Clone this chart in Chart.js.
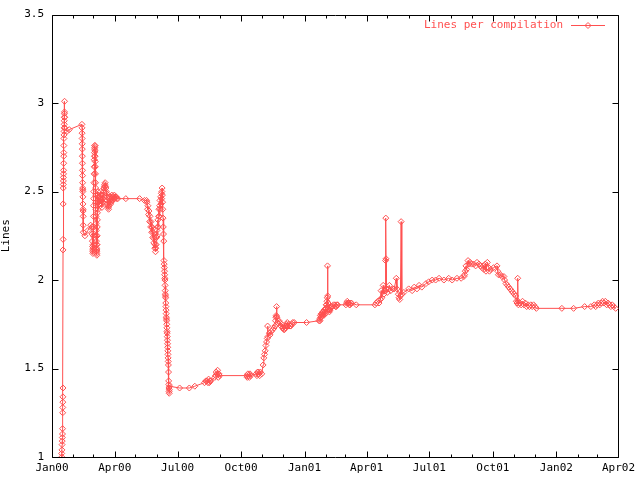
<!DOCTYPE html>
<html>
<head>
<meta charset="utf-8">
<script src="https://cdn.jsdelivr.net/npm/chart.js@4/dist/chart.umd.min.js"></script>
<style>
html,body{margin:0;padding:0;background:#fff;}
canvas{display:block;}
</style>
</head>
<body>
<canvas id="c" width="640" height="480"></canvas>
<script>
// Days since 1 Jan 2000
const dayOffsets = [
14,14.2,14.4,14.6,14.8,15,15.2,15.3,15.5,15.6,15.7,15.8,15.9,16,16.1,16.2,16.3,16.4,16.5,16.6,16.7,16.8,16.9,17,17.1,17.2,17.3,17.4,17.5,17.6,17.7,17.8,17.9,18,18.1,18.2,18.4,18.6,
21.7,25,43.4,
43.5,43.6,43.7,43.8,43.9,44,44.1,44.2,44.3,44.4,44.5,44.6,44.7,44.8,44.9,45,45.1,45.2,45.3,45.4,47.7,52,56,
57.8,58.2,58.5,58.8,59,59.2,59.3,59.5,59.6,59.8,
60,60.2,60.3,60.5,60.6,60.8,61,61.2,61.3,61.5,
61.6,61.8,62,62.1,62.2,62.4,62.5,62.7,62.8,63,
63.1,63.3,63.4,63.5,63.6,63.8,63.9,64.1,64.2,64.4,
64.5,64.7,64.8,64.9,65,65.2,65.3,65.5,65.6,65.8,
65.9,66.1,66.2,66.4,66.5,66.7,66.8,67.1,
67.5,68,68.7,69.4,70,70.5,71,71.5,72,72.3,
72.8,73,73.5,74,74.6,75.2,75.6,76,76.5,77,
77.5,78.1,78.6,79,79.5,80,80.5,80.9,81.5,82,
82.5,83,83.4,83.8,84.4,85,85.5,86,86.7,87.3,
88,88.8,89.6,90.3,91,92,93,94,95.4,
107,127,134,137,
137.5,138.5,139,140,140.5,141.5,142,143,143.5,144.5,
145,146,146.5,147.5,148,149,149.5,150,150.5,151,
151.5,152,152.5,153,153.5,154,154.5,155,155.5,156,
156.5,157,157.5,158,158.5,159,159.3,159.6,160,160.3,
160.6,161,161.3,161.6,162,
162.3,162.6,162.9,163.1,163.3,163.5,163.7,163.9,164.1,164.3,
164.5,164.7,164.9,165.1,165.3,165.5,165.7,165.9,166.1,166.3,
166.5,166.7,166.9,167.1,167.3,167.5,167.7,167.9,168.1,168.3,
168.5,168.7,168.9,169.1,169.3,169.5,169.7,169.9,170.1,170.4,
185,199,207,221,223,225,226,227,228,229,230,236,237,238,239,240,241,242,243,282,283,284,285,286,287,288,296,297,298,299,300,301,302,304,
306,307,308,309,310,311,312,312.5,313,315,316,318,320,322,323,324,324.5,325,325.5,326,327,329,330,332,333,334,335,336,337,338,339,340,341,342,343,345,346,348,349,351,369,387,
388,388.5,389,389.5,390,390.5,391,391.5,392,392.5,393,393.5,394,394.5,395,395.5,396,396.5,397,397.5,398,398.5,399,399.3,399.6,400,400.5,401,401.5,402,403,404,405,406,408,410,411,412,413,414,426,427,428,429,430,431,432,433,434,441,
468,470,472,474,476,477,478,480,481,483,483.5,483.8,484.1,484.4,486,488,489,491,494,496,499,500,502,503,504,505,506,507,510,
517,522,525,529,532,536,542,546,551,556,561,568,575,580,587,593,
597,598,599,600,601,603,604,606,608,611,614,616,619,621,623,625,626,628,629,631,633,634,636,640,645,646,647,650,652,655,656,658,660,662,664,666,668,670,672,673,674,675,675.5,676,678,680,682,684,686,688,690,692,694,696,698,700,702,
739,756,772,781,786,788,790,792,794,796,798,800,802,804,806,808,810,812,814,817
];
const linesPerCompilation = [
1.02,1.0,1.04,1.07,1.09,1.11,1.13,1.16,1.25,1.28,1.31,1.34,1.39,2.17,2.23,2.43,2.52,2.54,2.56,2.58,2.6,2.62,2.66,2.7,2.72,2.76,2.8,2.82,2.84,2.86,2.88,2.9,2.92,2.94,2.95,3.01,2.92,2.86,
2.84,2.85,2.88,
2.86,2.83,2.8,2.77,2.74,2.7,2.66,2.62,2.59,2.55,2.52,2.51,2.5,2.47,2.43,2.4,2.39,2.36,2.31,2.27,2.25,2.28,2.31,
2.3,2.26,2.22,2.19,2.17,2.16,2.15,2.18,2.2,2.25,
2.3,2.36,2.42,2.46,2.5,2.55,2.6,2.64,2.68,2.7,
2.72,2.74,2.75,2.76,2.76,2.73,2.7,2.67,2.64,2.6,
2.55,2.52,2.48,2.44,2.4,2.36,2.32,2.28,2.25,2.22,
2.2,2.18,2.16,2.15,2.14,2.17,2.2,2.25,2.3,2.34,
2.38,2.42,2.45,2.48,2.5,2.47,2.44,2.4,
2.44,2.47,2.45,2.43,2.46,2.5,2.48,2.45,2.43,2.41,
2.44,2.48,2.46,2.44,2.47,2.5,2.52,2.53,2.54,2.55,
2.53,2.52,2.5,2.49,2.47,2.45,2.43,2.42,2.41,2.4,
2.42,2.44,2.46,2.47,2.45,2.43,2.44,2.46,2.48,2.47,
2.45,2.46,2.47,2.48,2.46,2.47,2.47,2.46,2.46,
2.46,2.46,2.45,2.45,
2.44,2.4,2.42,2.37,2.39,2.33,2.36,2.3,2.33,2.27,
2.3,2.24,2.27,2.21,2.24,2.18,2.2,2.16,2.18,2.2,
2.24,2.28,2.25,2.3,2.34,2.3,2.36,2.4,2.36,2.42,
2.45,2.4,2.47,2.43,2.49,2.46,2.5,2.52,2.48,2.44,
2.4,2.35,2.3,2.26,2.22,
2.11,2.09,2.07,2.05,2.03,2.01,2.0,1.97,1.94,1.92,
1.91,1.9,1.87,1.85,1.83,1.81,1.79,1.78,1.77,1.75,
1.73,1.71,1.7,1.68,1.66,1.64,1.62,1.6,1.58,1.56,
1.54,1.52,1.48,1.43,1.41,1.39,1.37,1.36,1.38,1.4,
1.39,1.39,1.4,1.42,1.43,1.43,1.42,1.44,1.42,1.43,1.43,1.45,1.46,1.48,1.47,1.49,1.45,1.47,1.46,1.46,1.45,1.47,1.46,1.45,1.47,1.46,1.47,1.46,1.48,1.48,1.47,1.46,1.48,1.47,
1.52,1.56,1.58,1.6,1.63,1.65,1.67,1.74,1.68,1.7,1.69,1.71,1.72,1.73,1.74,1.77,1.79,1.8,1.85,1.79,1.76,1.77,1.76,1.74,1.75,1.73,1.73,1.72,1.72,1.73,1.74,1.75,1.76,1.74,1.75,1.74,1.74,1.75,1.76,1.76,1.76,1.77,
1.78,1.77,1.8,1.79,1.79,1.81,1.81,1.8,1.8,1.82,1.82,1.81,1.8,1.83,1.83,1.82,1.81,1.84,1.84,1.86,1.86,1.88,1.9,2.08,1.91,1.87,1.85,1.84,1.83,1.82,1.83,1.84,1.85,1.85,1.86,1.86,1.85,1.85,1.86,1.86,1.86,1.87,1.88,1.87,1.87,1.86,1.86,1.87,1.87,1.86,
1.86,1.87,1.88,1.87,1.89,1.94,1.9,1.97,1.92,1.94,2.11,2.35,2.12,1.95,1.93,1.95,1.97,1.94,1.95,1.95,2.01,1.95,1.92,1.9,1.89,1.91,2.33,1.92,1.93,
1.95,1.94,1.96,1.95,1.97,1.96,1.98,1.99,2.0,2.0,2.01,2.0,2.01,2.0,2.01,2.01,
2.02,2.03,2.05,2.08,2.06,2.11,2.09,2.1,2.09,2.09,2.08,2.1,2.09,2.08,2.07,2.08,2.06,2.09,2.05,2.1,2.07,2.05,2.06,2.07,2.08,2.05,2.03,2.03,2.02,2.02,2.0,1.98,1.97,1.96,1.95,1.94,1.93,1.92,1.91,1.88,1.87,2.01,1.88,1.86,1.87,1.86,1.88,1.86,1.87,1.85,1.86,1.85,1.86,1.85,1.86,1.85,1.84,
1.84,1.84,1.85,1.85,1.86,1.85,1.86,1.87,1.86,1.87,1.88,1.87,1.88,1.86,1.87,1.86,1.85,1.86,1.85,1.84
];
const seriesLabel = 'Lines per compilation';
const xTickDays = [0, 91, 182, 274, 366, 456, 547, 639, 731, 821];
const xTickLabels = ['Jan00','Apr00','Jul00','Oct00','Jan01','Apr01','Jul01','Oct01','Jan02','Apr02'];
const xMinorDays = [31,60,121,152,213,244,305,335,397,425,486,517,578,609,670,700,762,790];
const yTicks = [1, 1.5, 2, 2.5, 3, 3.5];

const RED = '#ff5050';
const FONT = "'DejaVu Sans Mono', 'Liberation Mono', monospace";

const framePlugin = {
  id: 'frame',
  beforeDatasetsDraw(chart) {
    const {ctx, chartArea: a, scales} = chart;
    ctx.save();
    ctx.strokeStyle = '#000';
    ctx.lineWidth = 1;
    ctx.beginPath();
    ctx.rect(Math.round(a.left) + 0.5, Math.round(a.top) + 0.5, Math.round(a.right - a.left), Math.round(a.bottom - a.top));
    const L = Math.round(a.left) + 0.5, R = Math.round(a.right) + 0.5, T = Math.round(a.top) + 0.5, B = Math.round(a.bottom) + 0.5;
    xTickDays.forEach(d => {
      const x = Math.round(scales.x.getPixelForValue(d)) + 0.5;
      ctx.moveTo(x, B); ctx.lineTo(x, B - 6);
      ctx.moveTo(x, T); ctx.lineTo(x, T + 6);
    });
    xMinorDays.forEach(d => {
      const x = Math.round(scales.x.getPixelForValue(d)) + 0.5;
      ctx.moveTo(x, B); ctx.lineTo(x, B - 3);
      ctx.moveTo(x, T); ctx.lineTo(x, T + 3);
    });
    yTicks.forEach(v => {
      const y = Math.round(scales.y.getPixelForValue(v)) + 0.5;
      ctx.moveTo(L, y); ctx.lineTo(L + 6, y);
      ctx.moveTo(R, y); ctx.lineTo(R - 6, y);
    });
    ctx.stroke();
    ctx.restore();
  },
  afterDraw(chart) {
    const {ctx, chartArea: a} = chart;
    const ds = chart.data.datasets[0];
    const y = Math.round(a.top) + 10.5;
    const x1 = Math.round(a.right) - 47, x2 = Math.round(a.right) - 13;
    ctx.save();
    ctx.fillStyle = ds.borderColor;
    ctx.font = "11px " + FONT;
    ctx.textAlign = 'right';
    ctx.textBaseline = 'middle';
    ctx.fillText(ds.label, x1 - 8, y);
    ctx.strokeStyle = ds.borderColor;
    ctx.lineWidth = 1;
    ctx.beginPath();
    ctx.moveTo(x1, y); ctx.lineTo(x2, y);
    const xm = (x1 + x2) / 2;
    ctx.moveTo(xm - 3, y); ctx.lineTo(xm, y - 3); ctx.lineTo(xm + 3, y); ctx.lineTo(xm, y + 3); ctx.closePath();
    ctx.stroke();
    ctx.restore();
  }
};

new Chart(document.getElementById('c'), {
  type: 'line',
  data: {
    datasets: [{
      label: seriesLabel,
      data: dayOffsets.map((d, i) => ({x: d, y: linesPerCompilation[i]})),
      borderColor: RED,
      borderWidth: 1,
      pointStyle: 'rectRot',
      pointRadius: 3,
      pointBorderWidth: 1,
      pointBackgroundColor: 'rgba(255,255,255,0)',
      pointBorderColor: RED,
      tension: 0,
      fill: false
    }]
  },
  options: {
    responsive: false,
    animation: false,
    events: [],
    layout: {padding: {top: 13, right: 20, left: 0, bottom: 0}},
    plugins: {legend: {display: false}, tooltip: {enabled: false}},
    scales: {
      x: {
        type: 'linear',
        min: 0, max: 821,
        grid: {display: false, drawTicks: false},
        border: {display: false},
        afterBuildTicks(scale) { scale.ticks = xTickDays.map(v => ({value: v})); },
        afterFit(scale) { scale.height = 23; },
        ticks: {
          autoSkip: false, maxRotation: 0, minRotation: 0,
          padding: 5,
          color: '#000',
          font: {family: FONT, size: 11},
          callback: (v) => { const i = xTickDays.indexOf(v); return i >= 0 ? xTickLabels[i] : ''; }
        }
      },
      y: {
        type: 'linear',
        min: 1, max: 3.5,
        grid: {display: false, drawTicks: false},
        border: {display: false},
        afterBuildTicks(scale) { scale.ticks = yTicks.map(v => ({value: v})); },
        afterFit(scale) { scale.width = 52; },
        title: {display: true, text: 'Lines', color: '#000', font: {family: FONT, size: 11}, padding: {top: 0, bottom: 0}},
        ticks: {
          padding: 8,
          color: '#000',
          font: {family: FONT, size: 11},
          callback: (v) => String(v)
        }
      }
    }
  },
  plugins: [framePlugin]
});
</script>
</body>
</html>
